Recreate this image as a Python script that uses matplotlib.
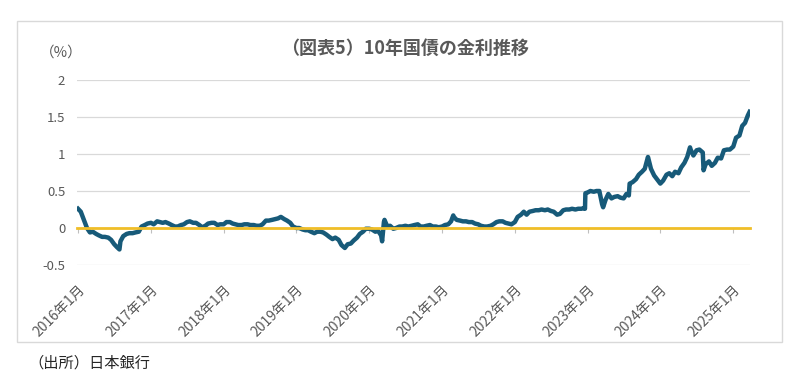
import matplotlib
matplotlib.use('Agg')
import matplotlib.pyplot as plt
import matplotlib.dates as mdates
from matplotlib.patches import Rectangle
from matplotlib.ticker import FuncFormatter, MultipleLocator
import pandas as pd

plt.rcParams['font.family'] = ['Noto Sans CJK JP', 'DejaVu Sans']

y2016 = [0.26, 0.22, 0.10, 0.00, -0.06, -0.05, -0.08, -0.10, -0.12, -0.12, -0.13, -0.16,
         -0.22, -0.26, -0.18, -0.11, -0.08, -0.07, -0.07, -0.06, -0.05, 0.02, 0.04, 0.06]
y2017 = [0.07, 0.05, 0.09, 0.08, 0.07, 0.08, 0.06, 0.04, 0.02, 0.02, 0.04, 0.05,
         0.08, 0.09, 0.07, 0.07, 0.04, 0.01, 0.03, 0.06, 0.07, 0.07, 0.04, 0.05]
y2018 = [0.05, 0.08, 0.08, 0.06, 0.05, 0.04, 0.04, 0.05, 0.05, 0.04, 0.04, 0.03,
         0.03, 0.05, 0.10, 0.10, 0.11, 0.12, 0.13, 0.15, 0.12, 0.10, 0.07, 0.02]
y2019 = [0.00, 0.00, -0.02, -0.03, -0.03, -0.05, -0.07, -0.05, -0.05, -0.06, -0.09, -0.12,
         -0.15, -0.13, -0.16, -0.23, -0.27, -0.22, -0.21, -0.17, -0.13, -0.08, -0.05, -0.01]
y2020 = [-0.01, -0.02, -0.05, -0.04, -0.10, 0.08, 0.02, 0.03, -0.01, 0.00, 0.02, 0.02,
         0.03, 0.02, 0.03, 0.04, 0.05, 0.02, 0.02, 0.03, 0.04, 0.02, 0.02, 0.01]
y2021 = [0.02, 0.04, 0.05, 0.09, 0.15, 0.11, 0.10, 0.09, 0.09, 0.08, 0.08, 0.06,
         0.05, 0.03, 0.02, 0.02, 0.03, 0.05, 0.08, 0.09, 0.09, 0.07, 0.06, 0.05]
y2022 = [0.08, 0.15, 0.18, 0.22, 0.18, 0.22, 0.23, 0.24, 0.24, 0.25, 0.24, 0.25,
         0.23, 0.22, 0.18, 0.19, 0.24, 0.25, 0.25, 0.26, 0.25, 0.26, 0.26, 0.27]
y2023 = [0.48, 0.50, 0.49, 0.50, 0.50, 0.32, 0.38, 0.46, 0.40, 0.42, 0.43, 0.41,
         0.40, 0.46, 0.60, 0.62, 0.66, 0.72, 0.76, 0.80, 0.95, 0.80, 0.71, 0.66]
y2024 = [0.60, 0.64, 0.72, 0.74, 0.70, 0.76, 0.74, 0.82, 0.88, 0.96, 1.06, 0.98,
         1.05, 1.06, 1.02, 0.86, 0.90, 0.84, 0.88, 0.95, 0.94, 1.05, 1.06, 1.06]
y2025 = [1.10, 1.22, 1.25, 1.38, 1.42, 1.52]

# sharp moves between the regular readings
event_dates = ['2016-07-27', '2020-03-06', '2020-03-18', '2021-02-26', '2022-12-19',
               '2022-12-21', '2023-03-20', '2023-07-27', '2023-07-31', '2023-10-31',
               '2024-05-29', '2024-08-05', '2025-03-24']
event_values = [-0.29, -0.18, 0.11, 0.17, 0.26,
                0.47, 0.28, 0.44, 0.60, 0.96,
                1.09, 0.78, 1.57]

yields = y2016 + y2017 + y2018 + y2019 + y2020 + y2021 + y2022 + y2023 + y2024 + y2025
semi_dates = pd.date_range('2016-01-01', periods=len(yields), freq='SMS')
series = pd.concat([pd.Series(yields, index=semi_dates),
                    pd.Series(event_values, index=pd.to_datetime(event_dates))]).sort_index()

title = '（図表5）10年国債の金利推移'
unit_label = '（%）'
source_label = '（出所）日本銀行'

line_color = '#175A79'
zero_color = '#F0BE28'
text_color = '#595959'

fig = plt.figure(figsize=(8, 3.8), dpi=100)
ax = fig.add_axes([77 / 800, 1 - 265 / 380, (750 - 77) / 800, (265 - 80) / 380])

ax.plot(series.index, series.values, color=line_color, lw=3.2, solid_joinstyle='round')

ax.set_ylim(-0.5, 2)
ax.set_xlim(pd.Timestamp('2015-12-27'), pd.Timestamp('2025-03-26'))
ax.yaxis.set_major_locator(MultipleLocator(0.5))
ax.yaxis.set_major_formatter(FuncFormatter(lambda v, p: f'{v:g}'))
ax.yaxis.grid(True, color='#D9D9D9', lw=0.9)
ax.xaxis.grid(False)

for s in ['left', 'right', 'top']:
    ax.spines[s].set_visible(False)
ax.spines['bottom'].set_position(('data', 0))
ax.spines['bottom'].set_color(zero_color)
ax.spines['bottom'].set_linewidth(2)

ax.xaxis.set_major_locator(mdates.YearLocator())
ax.xaxis.set_major_formatter(FuncFormatter(lambda v, p: f'{mdates.num2date(v).year}年1月'))
ax.tick_params(axis='x', length=3.5, color='#BFBFBF', pad=36, labelsize=10, labelcolor=text_color)
ax.tick_params(axis='y', length=0, pad=8.5, labelsize=9.5, labelcolor=text_color)
plt.setp(ax.get_xticklabels(), rotation=45, ha='right', rotation_mode='anchor')

fig.text(405 / 800, 1 - 48 / 380, title, ha='center', va='center', fontsize=13,
         fontweight='bold', color=text_color)
fig.text(61 / 800, 1 - 53 / 380, unit_label, ha='center', va='center', fontsize=10.5,
         color=text_color)
fig.text(28 / 800, 1 - 363 / 380, source_label, ha='left', va='center', fontsize=11,
         color='#262626')

fig.patches.append(Rectangle((17 / 800, 1 - 342 / 380), (782 - 17) / 800, (342 - 21) / 380,
                             transform=fig.transFigure, fill=False, ec='#D9D9D9', lw=1))

fig.savefig('out.png', dpi=100, facecolor='white')
